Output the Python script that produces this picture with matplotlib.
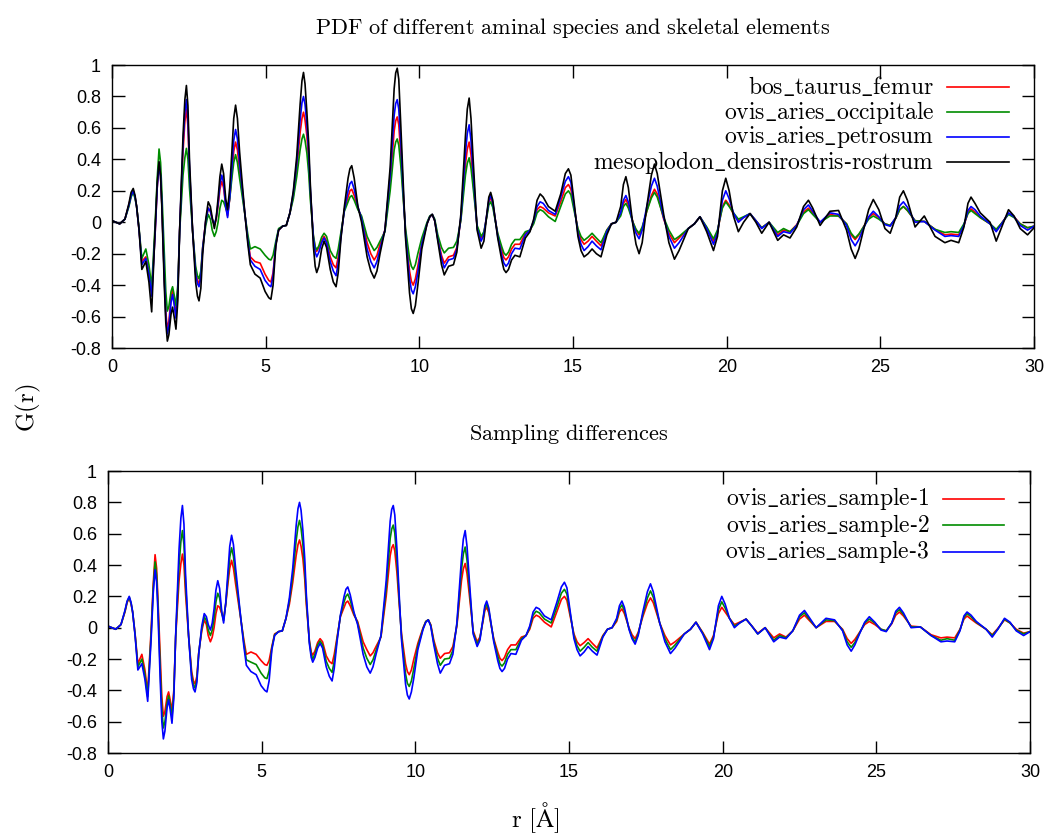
import matplotlib
matplotlib.use('Agg')
import matplotlib.pyplot as plt

plt.rcParams['mathtext.fontset'] = 'cm'
plt.rcParams['axes.unicode_minus'] = False
plt.rcParams['font.family'] = ['Liberation Sans', 'DejaVu Sans']

# r values (Angstrom), shared by all curves
r = [0.00, 0.25, 0.42, 0.55, 0.62, 0.69, 0.75, 0.80, 0.88, 0.97,
     1.10, 1.20, 1.29, 1.40, 1.47, 1.53, 1.58, 1.62, 1.70, 1.75,
     1.80, 1.85, 1.92, 1.97, 2.02, 2.08, 2.14, 2.20, 2.31, 2.37,
     2.42, 2.47, 2.52, 2.62, 2.72, 2.78, 2.83, 2.89, 2.95, 3.05,
     3.13, 3.20, 3.26, 3.33, 3.39, 3.45, 3.51, 3.57, 3.63, 3.70,
     3.76, 3.83, 3.90, 3.96, 4.02, 4.08, 4.15, 4.24, 4.33, 4.42,
     4.50, 4.65, 4.82, 4.98, 5.10, 5.17, 5.24, 5.33, 5.42, 5.55,
     5.67, 5.79, 5.90, 6.01, 6.12, 6.18, 6.23, 6.28, 6.34, 6.40,
     6.45, 6.55, 6.61, 6.66, 6.73, 6.82, 6.90, 6.98, 7.10, 7.20,
     7.29, 7.36, 7.45, 7.56, 7.68, 7.74, 7.80, 7.88, 8.00, 8.12,
     8.30, 8.42, 8.53, 8.62, 8.72, 8.88, 9.05, 9.12, 9.18, 9.23,
     9.28, 9.33, 9.40, 9.47, 9.55, 9.68, 9.74, 9.80, 9.87, 9.95,
     10.08, 10.25, 10.34, 10.42, 10.50, 10.60, 10.72, 10.81, 10.95, 11.11,
     11.22, 11.35, 11.50, 11.56, 11.62, 11.68, 11.75, 11.88, 12.01, 12.10,
     12.20, 12.26, 12.32, 12.39, 12.46, 12.55, 12.68, 12.75, 12.82, 12.90,
     13.00, 13.11, 13.27, 13.45, 13.60, 13.72, 13.83, 13.93, 14.03, 14.20,
     14.42, 14.60, 14.75, 14.85, 14.93, 15.04, 15.16, 15.26, 15.36, 15.49,
     15.62, 15.76, 15.91, 16.10, 16.25, 16.40, 16.55, 16.64, 16.72, 16.80,
     16.95, 17.05, 17.15, 17.25, 17.40, 17.55, 17.65, 17.74, 17.95, 18.12,
     18.30, 18.45, 18.75, 18.95, 19.13, 19.35, 19.57, 19.70, 19.86, 19.97,
     20.08, 20.22, 20.38, 20.55, 20.76, 20.95, 21.14, 21.38, 21.66, 21.85,
     22.06, 22.28, 22.50, 22.66, 22.80, 23.04, 23.36, 23.64, 23.90, 24.05,
     24.18, 24.30, 24.45, 24.62, 24.77, 24.95, 25.15, 25.32, 25.50, 25.63,
     25.75, 25.88, 26.13, 26.43, 26.78, 27.10, 27.30, 27.55, 27.72, 27.85,
     27.95, 28.08, 28.25, 28.57, 28.77, 28.95, 29.17, 29.35, 29.55, 29.79,
     30.00]

mesoplodon_densirostris_rostrum = [
    0.01, -0.01, 0.02, 0.12, 0.19, 0.215, 0.17, 0.10, -0.05, -0.30,
    -0.25, -0.38, -0.57, -0.05, 0.25, 0.385, 0.30, 0.10, -0.40, -0.64,
    -0.756, -0.715, -0.585, -0.54, -0.60, -0.68, -0.50, -0.05, 0.55, 0.78,
    0.87, 0.74, 0.40, -0.05, -0.38, -0.47, -0.50, -0.42, -0.20, 0.02,
    0.13, 0.10, 0.03, -0.04, 0.03, 0.15, 0.29, 0.37, 0.31, 0.15,
    0.08, 0.22, 0.45, 0.66, 0.745, 0.66, 0.45, 0.24, 0.04, -0.14,
    -0.27, -0.33, -0.355, -0.44, -0.48, -0.49, -0.40, -0.15, -0.05, -0.025,
    -0.02, 0.06, 0.20, 0.42, 0.75, 0.90, 0.953, 0.88, 0.70, 0.50,
    0.25, -0.15, -0.28, -0.32, -0.28, -0.17, -0.12, -0.16, -0.30, -0.38,
    -0.41, -0.32, -0.10, 0.10, 0.28, 0.34, 0.36, 0.28, 0.10, 0.00,
    -0.22, -0.31, -0.355, -0.31, -0.20, -0.05, 0.35, 0.62, 0.85, 0.95,
    0.98, 0.91, 0.60, 0.27, -0.10, -0.45, -0.55, -0.58, -0.53, -0.40,
    -0.17, -0.01, 0.035, 0.05, 0.01, -0.12, -0.27, -0.335, -0.28, -0.27,
    -0.19, 0.05, 0.55, 0.72, 0.79, 0.66, 0.40, -0.05, -0.165, -0.12,
    0.06, 0.16, 0.19, 0.14, 0.03, -0.10, -0.24, -0.30, -0.32, -0.30,
    -0.24, -0.21, -0.22, -0.10, -0.06, 0.02, 0.14, 0.18, 0.16, 0.10,
    0.07, 0.18, 0.31, 0.34, 0.30, 0.12, -0.09, -0.18, -0.22, -0.20,
    -0.17, -0.20, -0.22, -0.08, -0.01, 0.00, 0.10, 0.24, 0.29, 0.22,
    -0.02, -0.14, -0.20, -0.13, 0.10, 0.30, 0.37, 0.31, 0.05, -0.13,
    -0.235, -0.18, -0.04, -0.01, 0.035, -0.06, -0.18, -0.09, 0.20, 0.28,
    0.20, 0.04, -0.06, 0.00, 0.055, 0.00, -0.07, 0.00, -0.115, -0.08,
    -0.10, -0.03, 0.10, 0.14, 0.09, -0.02, 0.07, 0.075, -0.05, -0.17,
    -0.23, -0.17, -0.05, 0.08, 0.145, 0.08, -0.04, -0.07, 0.03, 0.16,
    0.20, 0.14, -0.03, 0.04, -0.09, -0.13, -0.115, -0.13, -0.03, 0.12,
    0.16, 0.12, 0.06, 0.00, -0.12, -0.03, 0.08, 0.04, -0.04, -0.08,
    -0.035]

ovis_aries_petrosum = [
    0.01, -0.01, 0.02, 0.11, 0.17, 0.20, 0.16, 0.10, -0.05, -0.27,
    -0.23, -0.33, -0.47, -0.08, 0.22, 0.37, 0.29, 0.12, -0.35, -0.60,
    -0.71, -0.66, -0.51, -0.46, -0.52, -0.61, -0.45, -0.05, 0.50, 0.70,
    0.78, 0.66, 0.35, -0.05, -0.33, -0.39, -0.41, -0.35, -0.17, 0.01,
    0.09, 0.07, 0.02, -0.015, 0.03, 0.12, 0.24, 0.30, 0.25, 0.10,
    0.03, 0.16, 0.35, 0.52, 0.59, 0.53, 0.38, 0.21, 0.04, -0.12,
    -0.24, -0.28, -0.30, -0.37, -0.40, -0.41, -0.34, -0.14, -0.05, -0.025,
    -0.02, 0.06, 0.19, 0.38, 0.65, 0.76, 0.80, 0.75, 0.62, 0.44,
    0.22, -0.10, -0.19, -0.22, -0.19, -0.13, -0.10, -0.13, -0.25, -0.31,
    -0.34, -0.26, -0.09, 0.08, 0.20, 0.245, 0.26, 0.21, 0.10, 0.02,
    -0.17, -0.25, -0.29, -0.25, -0.17, -0.05, 0.30, 0.50, 0.68, 0.755,
    0.78, 0.72, 0.50, 0.22, -0.08, -0.36, -0.43, -0.455, -0.41, -0.32,
    -0.14, -0.01, 0.035, 0.05, 0.01, -0.11, -0.23, -0.29, -0.24, -0.23,
    -0.17, 0.03, 0.44, 0.565, 0.62, 0.52, 0.32, -0.04, -0.12, -0.08,
    0.06, 0.14, 0.17, 0.125, 0.03, -0.09, -0.21, -0.26, -0.28, -0.26,
    -0.20, -0.165, -0.17, -0.08, -0.05, 0.01, 0.10, 0.13, 0.12, 0.075,
    0.05, 0.16, 0.26, 0.29, 0.255, 0.10, -0.07, -0.14, -0.18, -0.155,
    -0.12, -0.15, -0.175, -0.06, -0.01, 0.00, 0.06, 0.14, 0.17, 0.13,
    -0.01, -0.07, -0.105, -0.05, 0.10, 0.23, 0.28, 0.23, 0.03, -0.09,
    -0.165, -0.13, -0.04, -0.01, 0.035, -0.04, -0.14, -0.07, 0.14, 0.20,
    0.15, 0.06, 0.00, 0.03, 0.055, 0.01, -0.04, 0.00, -0.09, -0.06,
    -0.07, -0.02, 0.08, 0.11, 0.07, 0.00, 0.06, 0.05, -0.02, -0.11,
    -0.15, -0.11, -0.04, 0.035, 0.07, 0.035, -0.015, -0.025, 0.03, 0.105,
    0.13, 0.095, 0.00, 0.005, -0.05, -0.09, -0.085, -0.09, -0.02, 0.075,
    0.10, 0.08, 0.04, -0.01, -0.06, -0.01, 0.06, 0.035, -0.02, -0.05,
    -0.025]

bos_taurus_femur = [
    0.01, -0.01, 0.02, 0.11, 0.17, 0.20, 0.16, 0.10, -0.05, -0.25,
    -0.22, -0.31, -0.44, -0.08, 0.22, 0.37, 0.29, 0.12, -0.34, -0.57,
    -0.68, -0.63, -0.48, -0.43, -0.50, -0.59, -0.43, -0.05, 0.45, 0.64,
    0.72, 0.61, 0.32, -0.05, -0.31, -0.37, -0.39, -0.33, -0.16, 0.01,
    0.09, 0.07, 0.02, -0.02, 0.02, 0.10, 0.21, 0.26, 0.22, 0.10,
    0.04, 0.15, 0.31, 0.45, 0.51, 0.46, 0.33, 0.19, 0.04, -0.11,
    -0.22, -0.25, -0.26, -0.33, -0.37, -0.38, -0.32, -0.14, -0.05, -0.025,
    -0.02, 0.06, 0.17, 0.34, 0.57, 0.66, 0.70, 0.65, 0.55, 0.39,
    0.19, -0.09, -0.16, -0.185, -0.16, -0.115, -0.09, -0.12, -0.22, -0.27,
    -0.29, -0.22, -0.08, 0.08, 0.16, 0.20, 0.21, 0.17, 0.09, 0.03,
    -0.13, -0.20, -0.24, -0.21, -0.14, -0.05, 0.27, 0.43, 0.58, 0.645,
    0.67, 0.62, 0.42, 0.19, -0.06, -0.31, -0.375, -0.40, -0.36, -0.28,
    -0.13, -0.01, 0.035, 0.05, 0.01, -0.10, -0.21, -0.26, -0.22, -0.21,
    -0.16, 0.02, 0.37, 0.465, 0.51, 0.43, 0.26, -0.03, -0.10, -0.07,
    0.05, 0.13, 0.155, 0.115, 0.03, -0.08, -0.18, -0.225, -0.24, -0.22,
    -0.17, -0.14, -0.14, -0.07, -0.05, 0.00, 0.08, 0.10, 0.09, 0.06,
    0.04, 0.13, 0.22, 0.24, 0.21, 0.09, -0.05, -0.11, -0.14, -0.12,
    -0.09, -0.12, -0.15, -0.05, -0.01, 0.00, 0.05, 0.12, 0.145, 0.11,
    0.00, -0.05, -0.08, -0.04, 0.07, 0.17, 0.21, 0.18, 0.02, -0.07,
    -0.13, -0.10, -0.04, -0.01, 0.035, -0.035, -0.12, -0.06, 0.10, 0.14,
    0.11, 0.05, 0.01, 0.03, 0.055, 0.01, -0.035, 0.00, -0.08, -0.05,
    -0.06, -0.015, 0.065, 0.09, 0.06, 0.00, 0.05, 0.04, -0.01, -0.08,
    -0.11, -0.08, -0.03, 0.03, 0.055, 0.03, -0.01, -0.02, 0.025, 0.08,
    0.10, 0.075, 0.01, 0.005, -0.045, -0.08, -0.075, -0.08, -0.02, 0.06,
    0.085, 0.065, 0.03, -0.01, -0.05, -0.005, 0.055, 0.035, -0.01, -0.035,
    -0.025]

ovis_aries_occipitale = [
    0.01, -0.01, 0.02, 0.10, 0.16, 0.19, 0.15, 0.10, -0.04, -0.23,
    -0.17, -0.27, -0.41, -0.02, 0.28, 0.466, 0.38, 0.20, -0.20, -0.44,
    -0.565, -0.535, -0.44, -0.41, -0.46, -0.53, -0.40, -0.06, 0.30, 0.41,
    0.47, 0.40, 0.22, -0.05, -0.28, -0.34, -0.36, -0.31, -0.16, -0.02,
    0.05, 0.02, -0.05, -0.09, -0.06, 0.00, 0.09, 0.14, 0.13, 0.09,
    0.06, 0.15, 0.28, 0.38, 0.43, 0.38, 0.28, 0.16, 0.04, -0.08,
    -0.17, -0.155, -0.17, -0.21, -0.235, -0.24, -0.21, -0.12, -0.04, -0.025,
    -0.02, 0.06, 0.15, 0.29, 0.46, 0.53, 0.56, 0.52, 0.44, 0.31,
    0.15, -0.08, -0.155, -0.175, -0.15, -0.095, -0.07, -0.09, -0.18, -0.215,
    -0.23, -0.17, -0.06, 0.07, 0.13, 0.16, 0.17, 0.14, 0.08, 0.04,
    -0.09, -0.14, -0.18, -0.16, -0.12, -0.06, 0.20, 0.34, 0.46, 0.51,
    0.53, 0.49, 0.35, 0.16, -0.04, -0.23, -0.28, -0.30, -0.27, -0.20,
    -0.10, 0.00, 0.04, 0.05, 0.02, -0.08, -0.16, -0.195, -0.165, -0.16,
    -0.12, 0.01, 0.30, 0.375, 0.41, 0.345, 0.22, -0.02, -0.09, -0.06,
    0.04, 0.11, 0.13, 0.095, 0.02, -0.07, -0.155, -0.195, -0.21, -0.19,
    -0.14, -0.11, -0.11, -0.06, -0.05, -0.01, 0.06, 0.08, 0.07, 0.035,
    0.005, 0.10, 0.18, 0.20, 0.175, 0.07, -0.04, -0.09, -0.115, -0.095,
    -0.07, -0.10, -0.13, -0.05, -0.01, 0.00, 0.04, 0.10, 0.12, 0.09,
    0.00, -0.045, -0.07, -0.03, 0.07, 0.155, 0.19, 0.16, 0.03, -0.05,
    -0.11, -0.09, -0.04, -0.01, 0.035, -0.03, -0.105, -0.05, 0.09, 0.13,
    0.10, 0.06, 0.02, 0.035, 0.055, 0.01, -0.035, 0.00, -0.065, -0.04,
    -0.06, -0.02, 0.055, 0.08, 0.05, 0.00, 0.04, 0.04, -0.01, -0.07,
    -0.10, -0.075, -0.03, 0.02, 0.04, 0.02, -0.01, -0.02, 0.025, 0.08,
    0.10, 0.075, 0.01, 0.005, -0.045, -0.065, -0.06, -0.065, -0.01, 0.055,
    0.075, 0.055, 0.03, -0.01, -0.045, -0.005, 0.05, 0.03, -0.01, -0.035,
    -0.025]

# bottom panel: sample-1 and sample-3 trace the occipitale and petrosum curves
ovis_aries_sample_1 = ovis_aries_occipitale
ovis_aries_sample_3 = ovis_aries_petrosum
ovis_aries_sample_2 = [
    0.01, -0.01, 0.02, 0.105, 0.165, 0.195, 0.155, 0.10, -0.045, -0.25,
    -0.20, -0.30, -0.44, -0.05, 0.25, 0.42, 0.335, 0.16, -0.28, -0.52,
    -0.64, -0.60, -0.48, -0.435, -0.49, -0.57, -0.42, -0.055, 0.40, 0.55,
    0.62, 0.53, 0.285, -0.05, -0.305, -0.365, -0.385, -0.33, -0.165, -0.005,
    0.07, 0.045, -0.015, -0.05, -0.015, 0.06, 0.165, 0.22, 0.19, 0.095,
    0.045, 0.155, 0.315, 0.45, 0.51, 0.455, 0.33, 0.185, 0.04, -0.10,
    -0.205, -0.22, -0.235, -0.29, -0.32, -0.325, -0.275, -0.13, -0.045, -0.025,
    -0.02, 0.06, 0.17, 0.335, 0.555, 0.645, 0.685, 0.635, 0.53, 0.375,
    0.185, -0.09, -0.17, -0.20, -0.17, -0.11, -0.085, -0.11, -0.215, -0.26,
    -0.285, -0.215, -0.075, 0.075, 0.165, 0.20, 0.215, 0.175, 0.09, 0.03,
    -0.13, -0.195, -0.235, -0.205, -0.145, -0.055, 0.25, 0.42, 0.57, 0.63,
    0.655, 0.605, 0.425, 0.19, -0.06, -0.295, -0.355, -0.375, -0.34, -0.26,
    -0.12, -0.005, 0.04, 0.05, 0.015, -0.095, -0.195, -0.24, -0.20, -0.195,
    -0.145, 0.02, 0.37, 0.47, 0.515, 0.43, 0.27, -0.03, -0.105, -0.07,
    0.05, 0.125, 0.15, 0.11, 0.025, -0.08, -0.18, -0.23, -0.245, -0.225,
    -0.17, -0.14, -0.14, -0.07, -0.05, 0.00, 0.08, 0.105, 0.095, 0.055,
    0.03, 0.13, 0.22, 0.245, 0.215, 0.085, -0.055, -0.115, -0.15, -0.125,
    -0.095, -0.125, -0.15, -0.055, -0.01, 0.00, 0.05, 0.12, 0.145, 0.11,
    -0.005, -0.06, -0.09, -0.04, 0.085, 0.19, 0.235, 0.195, 0.03, -0.07,
    -0.14, -0.11, -0.04, -0.01, 0.035, -0.035, -0.12, -0.06, 0.115, 0.165,
    0.125, 0.06, 0.01, 0.03, 0.055, 0.01, -0.04, 0.00, -0.08, -0.05,
    -0.065, -0.02, 0.07, 0.095, 0.06, 0.00, 0.05, 0.045, -0.015, -0.09,
    -0.125, -0.095, -0.035, 0.03, 0.055, 0.03, -0.01, -0.02, 0.03, 0.095,
    0.115, 0.085, 0.005, 0.005, -0.05, -0.08, -0.07, -0.08, -0.015, 0.065,
    0.09, 0.07, 0.035, -0.01, -0.05, -0.01, 0.055, 0.03, -0.015, -0.04,
    -0.025]

top_labels = ['bos_taurus_femur', 'ovis_aries_occipitale', 'ovis_aries_petrosum',
              'mesoplodon_densirostris-rostrum']
top_series = [bos_taurus_femur, ovis_aries_occipitale, ovis_aries_petrosum,
              mesoplodon_densirostris_rostrum]
bottom_labels = ['ovis_aries_sample-1', 'ovis_aries_sample-2', 'ovis_aries_sample-3']
bottom_series = [ovis_aries_sample_1, ovis_aries_sample_2, ovis_aries_sample_3]

x_ticks = [0, 5, 10, 15, 20, 25, 30]
y_ticks = [-0.8, -0.6, -0.4, -0.2, 0, 0.2, 0.4, 0.6, 0.8, 1]
y_tick_labels = ['-0.8', '-0.6', '-0.4', '-0.2', '0', '0.2', '0.4', '0.6', '0.8', '1']

colors = ['#ff0000', '#008c00', '#0000ff', '#000000']

for s in top_series + bottom_series:
    assert len(s) == len(r), len(s)


def tex(s):
    # computer-modern text like the LaTeX terminal output
    s = s.replace(' ', r'\ ').replace('_', r'\_').replace('-', '\u2010')
    return r'$\mathrm{' + s + '}$'


def style(ax):
    ax.set_xlim(0, 30)
    ax.set_ylim(-0.8, 1)
    ax.set_xticks(x_ticks)
    ax.set_xticklabels([str(t) for t in x_ticks])
    ax.set_yticks(y_ticks)
    ax.set_yticklabels(y_tick_labels)
    ax.tick_params(direction='in', length=9, width=1, top=True, right=True,
                   labelsize=13, pad=8)
    for sp in ax.spines.values():
        sp.set_linewidth(1.0)


def key(ax, labels, ys, x_text, x0, x1):
    for lab, c, y in zip(labels, colors, ys):
        ax.text(x_text, y, tex(lab), transform=ax.transAxes, ha='right',
                va='center', fontsize=17)
        ax.plot([x0, x1], [y, y], color=c, lw=1.2, transform=ax.transAxes)


fig = plt.figure(figsize=(10.47, 8.34), dpi=100)
ax1 = fig.add_axes([0.107, 0.5827, 0.8806, 0.3393])
ax2 = fig.add_axes([0.1032, 0.0971, 0.8806, 0.3381])

for s, c in zip(top_series, colors):
    ax1.plot(r, s, color=c, lw=1.2)
for s, c in zip(bottom_series, colors):
    ax2.plot(r, s, color=c, lw=1.2)

style(ax1)
style(ax2)
key(ax1, top_labels, [0.922, 0.834, 0.746, 0.657], 0.8915, 0.9056, 0.9729)
key(ax2, bottom_labels, [0.901, 0.807, 0.713], 0.8905, 0.9056, 0.9718)

ax1.set_title(tex('PDF of different aminal species and skeletal elements'),
              fontsize=16, pad=22)
ax2.set_title(tex('Sampling differences'), fontsize=16, pad=22)
fig.text(0.027, 0.511, tex('G(r)'), rotation=90, ha='center', va='center', fontsize=18)
fig.text(0.511, 0.02, tex('r [Å]'), ha='center', va='center', fontsize=18)

fig.savefig('out.png', dpi=100)
